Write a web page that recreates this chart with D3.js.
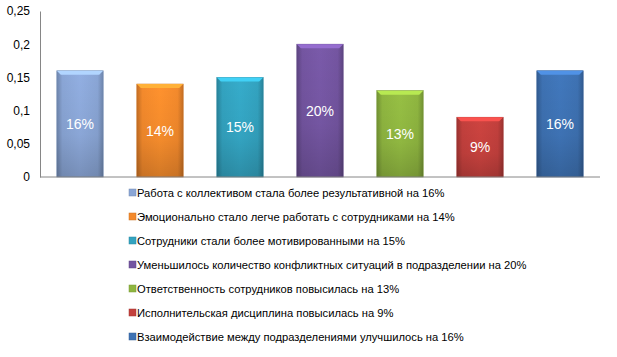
<!DOCTYPE html>
<html><head><meta charset="utf-8">
<script src="https://cdn.jsdelivr.net/npm/d3@7"></script>
<style>body{margin:0;background:#fff;}svg{display:block;font-family:"Liberation Sans",Arial,sans-serif;}</style>
</head><body>
<svg id="c" width="617" height="357"></svg>
<script>
const categories = [
  "Работа с коллективом стала более результативной на 16%",
  "Эмоционально стало легче работать с сотрудниками на 14%",
  "Сотрудники  стали более мотивированными на 15%",
  "Уменьшилось  количество конфликтных  ситуаций в подразделении  на 20%",
  "Ответственность  сотрудников  повысилась на 13%",
  "Исполнительская дисциплина повысилась на 9%",
  "Взаимодействие  между подразделениями  улучшилось на 16%"
];
const values = [0.16, 0.14, 0.15, 0.20, 0.13, 0.09, 0.16];
const barLabels = ["16%", "14%", "15%", "20%", "13%", "9%", "16%"];
const yTicks = [0, 0.05, 0.1, 0.15, 0.2, 0.25];
const yTickLabels = ["0", "0,05", "0,1", "0,15", "0,2", "0,25"];
const colors = ["#8aa6d6", "#f48a2c", "#33a3c0", "#7455a1", "#8fb640", "#c3403d", "#3e72b3"];

const svg = d3.select("#c");
const x = d3.scaleBand().domain(d3.range(categories.length)).range([40, 600]).paddingInner(0.42).paddingOuter(0.21);
const y = d3.scaleLinear().domain([0, 0.25]).range([177, 11]);

const defs = svg.append("defs");
colors.forEach((c, i) => {
  const g = defs.append("linearGradient").attr("id", "g" + i).attr("x1", "0").attr("x2", "1").attr("y1", "0").attr("y2", "0");
  const d = d3.color(c).darker(0.6), l = d3.color(c).brighter(0.15);
  g.append("stop").attr("offset", "0").attr("stop-color", d);
  g.append("stop").attr("offset", "0.12").attr("stop-color", c);
  g.append("stop").attr("offset", "0.5").attr("stop-color", l);
  g.append("stop").attr("offset", "0.88").attr("stop-color", c);
  g.append("stop").attr("offset", "1").attr("stop-color", d);
  const v = defs.append("linearGradient").attr("id", "v" + i).attr("x1", "0").attr("x2", "0").attr("y1", "0").attr("y2", "1");
  v.append("stop").attr("offset", "0").attr("stop-color", "#000").attr("stop-opacity", 0);
  v.append("stop").attr("offset", "0.6").attr("stop-color", "#000").attr("stop-opacity", 0.05);
  v.append("stop").attr("offset", "1").attr("stop-color", "#000").attr("stop-opacity", 0.18);
});

// y axis
const yAxis = d3.axisLeft(y).tickValues(yTicks).tickFormat((d, i) => yTickLabels[i]).tickSize(0).tickPadding(10);
const ya = svg.append("g").attr("transform", "translate(40,0)").call(yAxis);
ya.select(".domain").attr("stroke", "#868686");
ya.selectAll("text").attr("font-size", 12).attr("fill", "#000");

// bars
const bars = svg.append("g").selectAll("g").data(values).join("g");
bars.append("rect")
  .attr("x", (d, i) => x(i)).attr("y", d => y(d))
  .attr("width", x.bandwidth()).attr("height", d => y(0) - y(d))
  .attr("fill", (d, i) => "url(#g" + i + ")")
  .attr("stroke", (d, i) => d3.color(colors[i]).darker(0.5)).attr("stroke-width", 0.6);
bars.append("rect")
  .attr("x", (d, i) => x(i)).attr("y", d => y(d))
  .attr("width", x.bandwidth()).attr("height", d => y(0) - y(d))
  .attr("fill", (d, i) => "url(#v" + i + ")");
bars.append("path")
  .attr("d", (d, i) => {
    const x0 = x(i), x1 = x(i) + x.bandwidth(), t = y(d);
    return `M${x0},${t}L${x1},${t}L${x1 - 4},${t + 4}L${x0 + 4},${t + 4}Z`;
  })
  .attr("fill", (d, i) => d3.color(colors[i]).brighter(0.7));
bars.append("text")
  .attr("x", (d, i) => x(i) + x.bandwidth() / 2)
  .attr("y", d => (y(d) + y(0)) / 2 + 5)
  .attr("text-anchor", "middle").attr("fill", "#fff").attr("font-size", 14)
  .text((d, i) => barLabels[i]);

// x axis line
svg.append("line").attr("x1", 40).attr("x2", 600).attr("y1", y(0)).attr("y2", y(0)).attr("stroke", "#868686");

// legend
const leg = svg.append("g").selectAll("g").data(categories).join("g")
  .attr("transform", (d, i) => `translate(129,${193 + i * 24})`);
leg.append("rect").attr("x", 0).attr("y", -4).attr("width", 7).attr("height", 7)
  .attr("fill", (d, i) => colors[i]).attr("stroke", (d, i) => d3.color(colors[i]).darker(0.5)).attr("stroke-width", 0.5);
leg.append("text").attr("x", 8).attr("y", 4).attr("font-size", 11.2).attr("fill", "#000").text(d => d);
</script>
</body></html>
